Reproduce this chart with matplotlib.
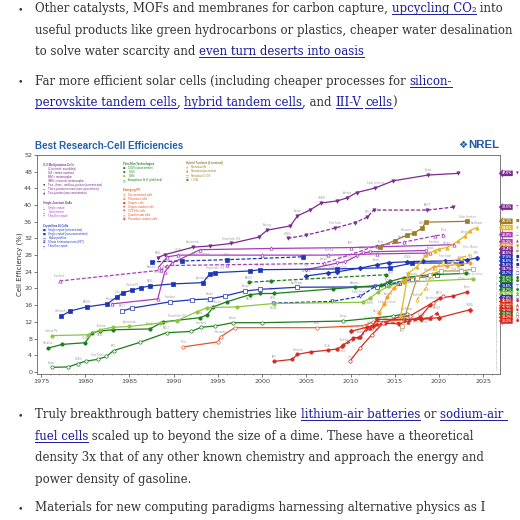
import matplotlib
matplotlib.use("Agg")
import matplotlib.pyplot as plt
from matplotlib.lines import Line2D
from matplotlib.ticker import MultipleLocator

# page text: (text, is_link) pieces per line
para_top = [
    [("Other catalysts, MOFs and membranes for carbon capture, ", 0), ("upcycling CO\u2082", 1), (" into", 0)],
    [("useful products like green hydrocarbons or plastics, cheaper water desalination", 0)],
    [("to solve water scarcity and ", 0), ("even turn deserts into oasis", 1)],
    [("Far more efficient solar cells (including cheaper processes for ", 0), ("silicon-", 1)],
    [("perovskite tandem cells", 1), (", ", 0), ("hybrid tandem cells", 1), (", and ", 0),
     ("III-V", 1), (" ", 0), ("cells", 1), (")", 0)],
]
para_bottom = [
    [("Truly breakthrough battery chemistries like ", 0), ("lithium-air batteries", 1), (" or ", 0), ("sodium-air ", 1)],
    [("fuel cells", 1), (" scaled up to beyond the size of a dime. These have a theoretical", 0)],
    [("density 3x that of any other known chemistry and approach the energy and", 0)],
    [("power density of gasoline.", 0)],
    [("Materials for new computing paradigms harnessing alternative physics as I", 0)],
]

# chart data (year, efficiency %)
mj4_conc_yr = [1988.2, 1989.0, 1992.2, 1994.1, 1996.5, 1999.6, 2000.6, 2003.2, 2004.0, 2005.4, 2006.7,
               2008.5, 2009.6, 2010.7, 2012.8, 2014.8, 2018.8, 2022.2]
mj4_conc_eff = [27.4, 28.1, 29.9, 30.2, 30.8, 32.3, 34.0, 35.0, 37.4, 38.8, 40.5, 41.0, 41.7, 43.0, 44.1,
                45.8, 47.2, 47.6]
mj3_yr = [2002.9, 2005.0, 2008.3, 2010.5, 2011.9, 2012.6, 2018.7, 2021.6]
mj3_eff = [32.0, 32.8, 34.5, 35.8, 37.1, 38.8, 38.8, 39.5]
mj2_yr = [1977.1, 1988.6, 1989.3, 1996.0, 2007.0, 2013.0, 2016.0, 2019.5, 2020.5]
mj2_eff = [21.8, 24.4, 25.5, 25.7, 26.0, 30.3, 31.1, 32.6, 32.9]
gaas_conc_yr = [1983.0, 1988.2, 1989.0, 1989.8, 1993.0, 2001.0, 2010.0, 2021.7]
gaas_conc_eff = [16.3, 17.5, 24.0, 26.1, 29.3, 29.6, 29.8, 30.5]
gaas_single_yr = [1988.3, 1989.3, 1990.5, 2000.0, 2007.5, 2013.0, 2019.0]
gaas_single_eff = [25.1, 27.6, 28.0, 28.0, 28.0, 28.3, 28.5]
gaas_thin_yr = [2005.0, 2008.5, 2009.4, 2010.7, 2011.4, 2012.2, 2018.5]
gaas_thin_eff = [24.5, 26.1, 26.4, 27.8, 28.5, 28.8, 29.1]

si_conc_yr = [1987.5, 1991.0, 1996.0, 2004.6]
si_conc_eff = [26.4, 26.6, 26.9, 27.6]
si_single_yr = [1977.3, 1978.3, 1980.2, 1982.5, 1983.6, 1984.3, 1985.3, 1986.3, 1987.3, 1989.9, 1993.3,
                1994.1, 1994.7, 1998.6, 1999.8, 2008.5, 2014.5, 2017.0, 2022.5]
si_single_eff = [13.4, 14.6, 15.6, 16.3, 18.0, 19.0, 19.6, 20.2, 20.6, 21.1, 21.4, 23.5, 23.8, 24.2, 24.5,
                 24.7, 25.0, 26.1, 26.1]
hit_yr = [2005.0, 2007.4, 2008.5, 2011.1, 2013.0, 2014.3, 2016.4, 2018.2, 2020.7, 2023.2, 2024.3]
hit_eff = [23.0, 23.7, 24.0, 24.9, 25.7, 26.2, 26.4, 26.5, 26.6, 26.9, 27.3]
si_multi_yr = [1984.2, 1985.3, 1989.6, 1992.1, 1994.1, 1995.8, 1998.1, 1999.8, 2004.0, 2013.0, 2014.1,
               2015.5, 2017.0, 2019.8]
si_multi_eff = [14.6, 15.3, 16.8, 17.3, 17.5, 18.2, 19.4, 19.8, 20.3, 20.4, 20.8, 21.3, 22.3, 23.3]
si_thin_yr = [2001.2, 2007.9, 2011.1, 2012.8, 2014.1, 2015.5]
si_thin_eff = [16.5, 16.9, 18.1, 20.5, 21.2, 21.4]

cigs_yr = [1975.8, 1977.4, 1980.0, 1980.8, 1981.7, 1983.1, 1987.3, 1988.8, 1993.0, 1993.8, 1994.5, 1996.0,
           1998.6, 1999.8, 2001.3, 2008.0, 2010.5, 2013.5, 2014.5, 2016.0, 2019.0, 2023.0]
cigs_eff = [5.7, 6.6, 7.0, 9.4, 9.8, 10.1, 10.3, 12.0, 13.0, 13.7, 15.6, 16.8, 18.5, 18.8, 18.8, 19.9, 20.3,
            20.8, 21.7, 22.6, 23.3, 23.6]
cigs_conc_yr = [1998.5, 2001.0, 2014.0]
cigs_conc_eff = [21.5, 21.8, 23.3]
cdte_yr = [1976.2, 1980.3, 1981.7, 1983.1, 1985.0, 1988.5, 1990.4, 1992.6, 1993.8, 1997.2, 2001.3, 2011.4,
           2012.2, 2013.1, 2014.3, 2016.0, 2023.9]
cdte_eff = [8.7, 8.9, 10.1, 10.7, 10.9, 11.7, 12.3, 14.4, 15.4, 15.6, 16.4, 16.7, 17.7, 19.1, 20.6, 21.5, 22.3]
asi_yr = [1976.2, 1978.1, 1979.2, 1980.1, 1981.4, 1982.4, 1983.2, 1986.2, 1989.2, 1992.0, 1993.1, 1994.7,
          1996.7, 2000.0, 2009.2, 2014.8, 2016.4]
asi_eff = [1.1, 1.2, 2.0, 2.6, 3.0, 3.7, 5.1, 7.1, 9.4, 9.7, 10.7, 11.0, 11.8, 11.8, 12.2, 13.4, 14.0]

dye_yr = [1991.1, 1995.0, 1995.3, 1996.9, 2006.2, 2011.5, 2012.5, 2019.0]
dye_eff = [6.0, 7.2, 8.4, 10.6, 10.6, 11.1, 11.9, 13.0]
organic_yr = [2001.3, 2003.4, 2004.0, 2005.5, 2007.4, 2008.5, 2009.2, 2010.3, 2011.1, 2011.9, 2013.9,
              2015.5, 2017.9, 2019.0, 2020.1, 2021.6, 2023.2]
organic_eff = [2.5, 3.0, 4.2, 4.8, 5.2, 5.5, 6.5, 8.1, 8.4, 10.7, 11.7, 11.5, 13.2, 16.0, 17.7, 18.2, 19.2]
org_tandem_yr = [2009.0, 2011.0, 2012.2, 2013.0, 2016.5, 2019.0, 2019.8]
org_tandem_eff = [6.1, 8.3, 10.6, 11.5, 12.0, 13.0, 14.2]
qdot_yr = [2009.9, 2011.1, 2012.4, 2013.7, 2015.6, 2016.7, 2019.3, 2020.5]
qdot_eff = [2.5, 5.8, 8.9, 11.7, 13.3, 13.4, 16.6, 18.1]
czts_yr = [2010.0, 2012.5, 2013.0, 2016.0, 2018.0, 2020.0, 2023.5]
czts_eff = [9.7, 11.1, 12.6, 12.6, 12.6, 13.0, 14.9]
perov_yr = [2013.2, 2013.8, 2014.1, 2014.9, 2016.0, 2017.5, 2019.4, 2020.9, 2022.1, 2023.5]
perov_eff = [14.1, 16.2, 17.9, 20.1, 22.1, 22.7, 25.2, 25.5, 25.7, 26.1]

perov_si_yr = [2015.7, 2016.5, 2017.5, 2018.5, 2019.5, 2020.0, 2020.9, 2022.1, 2022.9, 2023.5, 2024.3]
perov_si_eff = [13.7, 23.6, 25.2, 28.0, 29.1, 29.5, 29.8, 31.3, 32.5, 33.9, 34.6]
iii_v_si_yr = [2013.3, 2015.0, 2016.4, 2017.2, 2018.1, 2018.5, 2023.2]
iii_v_si_eff = [30.0, 31.5, 32.8, 33.3, 34.5, 35.9, 36.1]
perov_cigs_yr = [2015.8, 2017.5, 2019.0, 2020.2, 2022.5, 2023.8]
perov_cigs_eff = [10.9, 22.4, 23.3, 24.2, 24.2, 24.6]
perov_perov_yr = [2017.5, 2018.5, 2019.5, 2020.5, 2021.5, 2022.5, 2023.5]
perov_perov_eff = [17.3, 20.1, 24.8, 26.4, 26.4, 27.4, 28.0]

record_names = ["NREL", "Spectrolab", "Fraunhofer ISE", "Boeing", "Sharp", "UNSW", "Kaneka",
                "Solar Junction", "Soitec", "LONGi", "First Solar", "EPFL", "KRICT", "Stanford",
                "Varian", "Sanyo", "SunPower", "Trina", "Panasonic", "ZSW", "Solar Frontier", "IBM",
                "Heliatek", "UCLA", "Toshiba", "Kodak", "RCA", "Univ. Maine", "ARCO", "Spire",
                "Amonix", "ISFH", "Helmholtz", "KAUST", "Jinko", "Oxford PV"]

badge_vals = [47.6, 39.5, 36.1, 34.6, 32.9, 31.2, 30.3, 29.4, 28.5, 27.5, 26.6, 25.6, 24.7, 23.7, 22.6,
              21.7, 20.6, 19.7, 18.7, 17.8, 16.9, 15.9, 15.3, 14.7, 13.9, 13.1, 12.2]

PURPLE = "#7a2a90"
MAGENTA = "#a63dbb"
BLUE = "#1f35b8"
GREEN = "#1b7d1b"
LIME = "#8cc63f"
ORANGE = "#f0a030"
RED = "#d42a1f"
REDOR = "#e2582c"
GOLD = "#e6b422"
OLIVE = "#9c7d2e"
TAN = "#b59b5a"

badge_cols = [PURPLE, PURPLE, OLIVE, GOLD, MAGENTA, MAGENTA, ORANGE, PURPLE, PURPLE, BLUE, BLUE, BLUE,
              PURPLE, BLUE, GREEN, GREEN, BLUE, GREEN, LIME, BLUE, RED, REDOR, RED, RED, GREEN, RED, RED]
badge_syms = ["\u25bc", "\u25bd", "\u25a0", "\u25b2", "\u25b3", "\u25b2", "\u25cf", "\u25b3", "\u25bd",
              "\u25a0", "\u25c6", "\u25a0", "\u25bd", "\u25a1", "\u25cf", "\u25cf", "\u25bd", "\u25cf",
              "\u25cf", "\u25a1", "\u25cf", "\u25b2", "\u25cb", "\u25c6", "\u25cb", "\u25cb", "\u25cf"]

W = 520
fig = plt.figure(figsize=(5.2, 5.2), dpi=100)
renderer = fig.canvas.get_renderer()


def fx(x):
    return x / W


def fy(y):
    return 1 - y / W


def text_w(s, **kw):
    t = fig.text(0, 0, "|" + s + "|", **kw)
    w1 = t.get_window_extent(renderer).width
    t.remove()
    t = fig.text(0, 0, "||", **kw)
    w2 = t.get_window_extent(renderer).width
    t.remove()
    return w1 - w2


def fit_size(s, width, **kw):
    return 8 * width / text_w(s, fontsize=8, **kw)


# fit the serif body size to the reference line width
serif = dict(family="DejaVu Serif")
body_fs = fit_size(para_top[1][0][0], 478, **serif)
serif["fontsize"] = body_fs
em = body_fs * 100 / 72
TXT = "#333333"
LINK = "#1a1aa0"


def draw_line(pieces, y_center, x0=35, bullet=False):
    base = y_center + 0.26 * em
    if bullet:
        fig.text(fx(20), fy(base), "\u2022", color=TXT, va="baseline", ha="center",
                 family="DejaVu Serif", fontsize=body_fs * 0.8)
    x = x0
    for s, link in pieces:
        w = text_w(s, **serif)
        fig.text(fx(x), fy(base), s, color=LINK if link else TXT, va="baseline", ha="left", **serif)
        if link:
            fig.add_artist(Line2D([fx(x), fx(x + w)], [fy(base + 2), fy(base + 2)], color=LINK, lw=0.7,
                                  transform=fig.transFigure))
        x += w


for pieces, yc, b in zip(para_top, [9, 30.7, 52.3, 81.7, 102.7], [1, 0, 0, 1, 0]):
    draw_line(pieces, yc, bullet=b)
for pieces, yc, b in zip(para_bottom, [415, 436.7, 458.3, 480, 508.3], [1, 0, 0, 0, 1]):
    draw_line(pieces, yc, bullet=b)

# chart title and logo
sans = dict(family="Liberation Sans", fontweight="bold")
title = "Best Research-Cell Efficiencies"
fig.text(fx(35), fy(146), title, fontsize=fit_size(title, 148, **sans), color="#2160ad", va="center", **sans)
nfs = fit_size("NREL", 31, **sans)
fig.text(fx(468), fy(145), "NREL", fontsize=nfs, color="#1e5aa8", va="center", **sans)
fig.text(fx(463), fy(145), "\u2756", fontsize=nfs * 0.9, color="#1e5aa8", va="center", ha="center",
         family="DejaVu Sans")

ax = fig.add_axes([fx(37), fy(374), (500 - 37) / W, (374 - 155) / W])
ax.set_xlim(1974.55, 2026.9)
ax.set_ylim(-0.5, 52)
ax.set_yticks(range(0, 53, 4))
ax.set_xticks(range(1975, 2026, 5))
ax.xaxis.set_minor_locator(MultipleLocator(1))
ax.tick_params(labelsize=4.6, length=2, width=0.5, colors="#444444", pad=1.5)
ax.tick_params(which="minor", length=1, width=0.4, colors="#666666")
for sp in ax.spines.values():
    sp.set_color("#666666")
    sp.set_linewidth(0.6)
ax.set_ylabel("Cell Efficiency (%)", fontsize=5, color="#333333", labelpad=0.5)

series = [
    (mj4_conc_yr, mj4_conc_eff, PURPLE, "v", True, "-"),
    (mj3_yr, mj3_eff, PURPLE, "v", True, "--"),
    (mj2_yr, mj2_eff, MAGENTA, "^", False, "--"),
    (gaas_conc_yr, gaas_conc_eff, MAGENTA, "^", False, "-"),
    (gaas_single_yr, gaas_single_eff, MAGENTA, "^", False, "-"),
    (gaas_thin_yr, gaas_thin_eff, MAGENTA, "v", False, "-"),
    (si_conc_yr, si_conc_eff, BLUE, "s", True, "--"),
    (si_single_yr, si_single_eff, BLUE, "s", True, "-"),
    (hit_yr, hit_eff, BLUE, "D", True, "-"),
    (si_multi_yr, si_multi_eff, BLUE, "s", False, "-"),
    (si_thin_yr, si_thin_eff, BLUE, "v", False, "--"),
    (cigs_yr, cigs_eff, GREEN, "o", True, "-"),
    (cigs_conc_yr, cigs_conc_eff, GREEN, "o", True, "--"),
    (cdte_yr, cdte_eff, LIME, "o", True, "-"),
    (asi_yr, asi_eff, GREEN, "o", False, "-"),
    (dye_yr, dye_eff, REDOR, "o", False, "-"),
    (organic_yr, organic_eff, RED, "o", True, "-"),
    (org_tandem_yr, org_tandem_eff, RED, "^", True, "--"),
    (qdot_yr, qdot_eff, RED, "o", False, "-"),
    (czts_yr, czts_eff, RED, "D", True, "-"),
    (perov_yr, perov_eff, ORANGE, "o", True, "-"),
    (perov_si_yr, perov_si_eff, GOLD, "^", True, "-"),
    (iii_v_si_yr, iii_v_si_eff, OLIVE, "s", True, "-"),
    (perov_cigs_yr, perov_cigs_eff, TAN, "s", False, "-"),
    (perov_perov_yr, perov_perov_eff, GOLD, "^", False, "--"),
]

for yr, ef, col, mk, filled, ls in series:
    ax.plot(yr, ef, ls=ls, color=col, lw=0.9, marker=mk, ms=2.4, mfc=col if filled else "white",
            mec=col, mew=0.5, zorder=3, dashes=(3, 1.5) if ls == "--" else (None, None))

# small gray record holder labels, skipped where they would collide
placed = []
k = 0
for yr, ef, col, mk, filled, ls in series:
    for j, (x, y) in enumerate(zip(yr, ef)):
        if j % 2:
            continue
        name = record_names[k % len(record_names)]
        k += 1
        for dy in (3.4, -3.4, 6.0, -6.0):
            a = ax.annotate(name, (x, y), xytext=(0, dy), textcoords="offset points",
                            fontsize=1.8, color="#9a9a9a", ha="center", va="center", zorder=2)
            bb = a.get_window_extent(renderer).expanded(1.05, 1.1)
            if not any(bb.overlaps(p) for p in placed):
                placed.append(bb)
                break
            a.remove()

# right hand record badges
for v, c, s in zip(badge_vals, badge_cols, badge_syms):
    ax.text(2027.1, v, f"{v:.1f}%", fontsize=2.5, color="white", fontweight="bold", ha="left",
            va="center", clip_on=False, family="Liberation Sans",
            bbox=dict(boxstyle="larrow,pad=0.22", fc=c, ec="none"))
    ax.text(2028.85, v, s, fontsize=2.6, color=c, ha="center", va="center", clip_on=False,
            family="DejaVu Sans")

ax.text(0.995, 0.02, "This plot is courtesy of the National Renewable Energy Laboratory, Golden, CO.",
        transform=ax.transAxes, rotation=90, fontsize=1.7, color="#888888", ha="right", va="bottom")

# legend block
legend_cols = [
    (43, 164.7, [
        ("h", "III-V Multijunction Cells", PURPLE, ""),
        ("e", "(2-terminal, monolithic)", PURPLE, ""),
        ("e", "LM = lattice matched", PURPLE, ""),
        ("e", "MM = metamorphic", PURPLE, ""),
        ("e", "IMM = inverted, metamorphic", PURPLE, ""),
        ("e", "Two-, three-, and four-junction (concentrator)", PURPLE, "\u25bc"),
        ("e", "Three-junction or more (non-concentrator)", PURPLE, "\u25bd"),
        ("e", "Two-junction (non-concentrator)", PURPLE, "\u25b2"),
        ("h", "Single-Junction GaAs", PURPLE, ""),
        ("e", "Single crystal", MAGENTA, "\u25b3"),
        ("e", "Concentrator", MAGENTA, "\u25b3"),
        ("e", "Thin-film crystal", MAGENTA, "\u25bd"),
        ("h", "Crystalline Si Cells", BLUE, ""),
        ("e", "Single crystal (concentrator)", BLUE, "\u25a0"),
        ("e", "Single crystal (non-concentrator)", BLUE, "\u25a0"),
        ("e", "Multicrystalline", BLUE, "\u25a1"),
        ("e", "Silicon heterostructures (HIT)", BLUE, "\u25c6"),
        ("e", "Thin-film crystal", BLUE, "\u25bd"),
    ]),
    (123, 164, [
        ("h", "Thin-Film Technologies", GREEN, ""),
        ("e", "CIGS (concentrator)", GREEN, "\u25cf"),
        ("e", "CIGS", GREEN, "\u25cf"),
        ("e", "CdTe", GREEN, "\u25cf"),
        ("e", "Amorphous Si:H (stabilized)", GREEN, "\u25cb"),
        ("h", "Emerging PV", REDOR, ""),
        ("e", "Dye-sensitized cells", REDOR, "\u25cb"),
        ("e", "Perovskite cells", REDOR, "\u25cf"),
        ("e", "Organic cells", REDOR, "\u25cf"),
        ("e", "Organic tandem cells", REDOR, "\u25b2"),
        ("e", "CZTSSe cells", REDOR, "\u25c6"),
        ("e", "Quantum dot cells", REDOR, "\u25cb"),
        ("e", "Perovskite tandem cells", REDOR, "\u25cf"),
    ]),
    (185.7, 163.3, [
        ("h", "Hybrid Tandems (2-terminal)", OLIVE, ""),
        ("e", "Perovskite/Si", OLIVE, "\u25b2"),
        ("e", "Perovskite/perovskite", OLIVE, "\u25b2"),
        ("e", "Perovskite/CIGS", OLIVE, "\u25a1"),
        ("e", "III-V/Si", OLIVE, "\u25a0"),
    ]),
]
lsans = dict(family="Liberation Sans")
head_fs = fit_size("III-V Multijunction Cells", 31, fontweight="bold", **lsans)
entry_fs = fit_size("Two-, three-, and four-junction (concentrator)", 56, **lsans)
sym_cols = {"CdTe": LIME, "Perovskite cells": ORANGE, "Organic cells": RED, "Perovskite/Si": GOLD}
for x0, y0, items in legend_cols:
    y = y0
    for i, (kind, txt, col, sym) in enumerate(items):
        if kind == "h":
            if i > 0:
                y += 6
            fig.text(fx(x0), fy(y), txt, fontsize=head_fs, fontweight="bold", color=col, va="center",
                     **lsans)
        else:
            if sym:
                fig.text(fx(x0 + 1.5), fy(y), sym, fontsize=entry_fs * 1.1, color=sym_cols.get(txt, col),
                         va="center", ha="center", family="DejaVu Sans")
            fig.text(fx(x0 + 5.5), fy(y), txt, fontsize=entry_fs, color=col, va="center", **lsans)
        y += 4.1

fig.savefig("out.png", dpi=100)
